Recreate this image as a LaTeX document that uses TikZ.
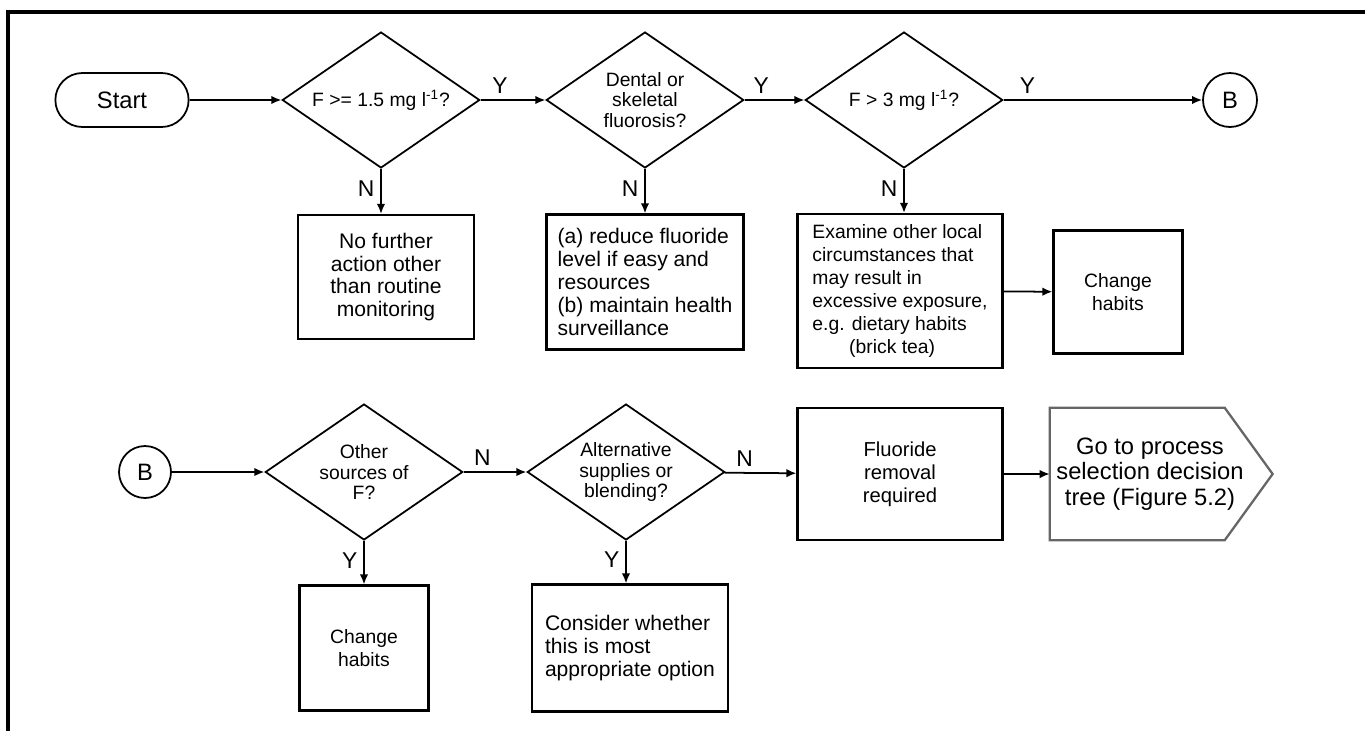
\documentclass[tikz,border=0pt]{standalone}
\usepackage{fontspec}
\setmainfont{Liberation Sans}
\usetikzlibrary{shapes.geometric,shapes.misc,arrows.meta}

\begin{document}
\begin{tikzpicture}[x=0.02cm,y=-0.02cm,
    decision/.style={diamond,draw,line width=1pt,inner sep=0pt,aspect=1.45,
        minimum width=3.95cm,minimum height=2.72cm,align=center,
        font=\fontsize{11}{11.5}\selectfont},
    actbox/.style={rectangle,draw,line width=1.3pt,inner sep=3pt,
        font=\fontsize{12}{13}\selectfont},
    connector/.style={circle,draw,line width=1pt,minimum size=1.08cm,
        inner sep=0pt,font=\fontsize{13.5}{15}\selectfont},
    flow/.style={draw,line width=1pt,-{Latex[length=2mm,width=1.7mm]}},
    yn/.style={font=\fontsize{13}{15}\selectfont}]

    % Frame
    \useasboundingbox (0,0) rectangle (1365,731);
    \draw[line width=2pt] (8,731) -- (8,12) -- (1365,12);

    % First row
    \node[rounded rectangle,draw,line width=1pt,minimum width=2.9cm,
        minimum height=1.08cm,font=\fontsize{13.5}{15}\selectfont] (start) at (122,100) {Start};
    \node[decision] (d1) at (381,100) {F >= 1.5 mg l\textsuperscript{-1}?};
    \node[decision] (d2) at (645,100) {Dental or\\skeletal\\fluorosis?};
    \node[decision] (d3) at (904,100) {F > 3 mg l\textsuperscript{-1}?};
    \node[connector] (b1) at (1230,100) {B};

    \node[actbox,minimum width=3.52cm,minimum height=2.48cm,align=center] (nofurther) at (386,277)
        {No further\\action other\\than routine\\monitoring};
    \node[actbox,minimum width=3.94cm,minimum height=2.7cm,align=left] (reduce) at (645,282)
        {(a) reduce fluoride\\level if easy and\\resources\\(b) maintain health\\surveillance};
    \node[actbox,minimum width=4.1cm,minimum height=3.08cm,align=left,
        font=\fontsize{11}{13}\selectfont] (examine) at (900,291)
        {Examine other local\\circumstances that\\may result in\\excessive exposure,\\e.g. dietary habits\\\hspace*{1.9em}(brick tea)};
    \node[actbox,minimum width=2.58cm,minimum height=2.46cm,align=center,
        font=\fontsize{11}{13}\selectfont] (habits1) at (1118,292)
        {Change\\habits};

    \draw[flow] (start) -- (d1);
    \draw[flow] (d1) -- node[yn,above,pos=0.3]{Y} (d2);
    \draw[flow] (d2) -- node[yn,above,pos=0.28]{Y} (d3);
    \draw[flow] (d3) -- node[yn,above,pos=0.12]{Y} (b1);
    \draw[flow] (d1.south) -- node[yn,left,pos=0.45]{N} (d1.south |- nofurther.north);
    \draw[flow] (d2.south) -- node[yn,left,pos=0.45]{N} (d2.south |- reduce.north);
    \draw[flow] (d3.south) -- node[yn,left,pos=0.45]{N} (d3.south |- examine.north);
    \draw[flow] (examine) -- (habits1);

    % Second row
    \node[connector,minimum size=1.04cm] (b2) at (145,472) {B};
    \node[decision] (d4) at (364,472) {Other\\sources of\\F?};
    \node[decision] (d5) at (626,472) {Alternative\\supplies or\\blending?};
    \node[actbox,minimum width=4.1cm,minimum height=2.64cm,align=center,
        font=\fontsize{11.5}{13}\selectfont] (removal) at (900,474)
        {Fluoride\\removal\\required};
    \node[minimum width=4cm,minimum height=2.64cm,inner sep=0pt,align=center,
        font=\fontsize{13.5}{14.5}\selectfont] (goto) at (1150,474)
        {Go to process\\selection decision\\tree (Figure 5.2)};
    \draw[draw=black!60,line width=1.3pt] (goto.north west) -- ([xshift=3.5cm]goto.north west)
        -- ([xshift=4.46cm]goto.west) -- ([xshift=3.5cm]goto.south west) -- (goto.south west) -- cycle;
    \node[actbox,minimum width=2.58cm,minimum height=2.5cm,align=center,
        font=\fontsize{11}{13}\selectfont] (habits2) at (364,648)
        {Change\\habits};
    \node[actbox,minimum width=3.92cm,minimum height=2.54cm,align=left] (consider) at (630,648)
        {Consider whether\\this is most\\appropriate option};

    \draw[flow] (b2) -- (d4);
    \draw[flow] (d4) -- node[yn,above,pos=0.3]{N} (d5);
    \draw[flow] (d5) -- node[yn,above,pos=0.28]{N} (removal);
    \draw[flow] (removal) -- (goto);
    \draw[flow] (d4.south) -- node[yn,left,pos=0.45]{Y} (d4.south |- habits2.north);
    \draw[flow] (d5.south) -- node[yn,left,pos=0.45]{Y} (d5.south |- consider.north);
\end{tikzpicture}
\end{document}
